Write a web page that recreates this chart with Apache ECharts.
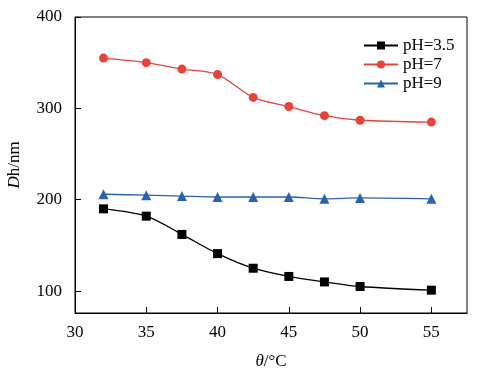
<!DOCTYPE html>
<html>
<head>
<meta charset="utf-8">
<script src="https://cdn.jsdelivr.net/npm/echarts@6/dist/echarts.min.js"></script>
<style>html,body{margin:0;padding:0;background:#fff}#c{width:496px;height:378px}</style>
</head>
<body>
<div id="c"></div>
<script>
const temps = [32, 35, 37.5, 40, 42.5, 45, 47.5, 50, 55];
const ph35 = [190, 182, 162, 141, 125, 116, 110, 105, 101];
const ph7 = [355, 350, 343, 337, 312, 302, 292, 287, 285];
const ph9 = [206, 205, 204, 203, 203, 203, 201, 202, 201];
const xTicks = [30, 35, 40, 45, 50, 55];
const yTicks = [100, 200, 300, 400];
const seriesNames = ['pH=3.5', 'pH=7', 'pH=9'];

const FONT = '"Liberation Serif", "Times New Roman", serif';
const pairs = arr => temps.map((t, i) => [t, arr[i]]);

const chart = echarts.init(document.getElementById('c'), null, {renderer: 'canvas'});
chart.setOption({
  animation: false,
  backgroundColor: '#fff',
  textStyle: {fontFamily: FONT, color: '#000'},
  grid: {left: 75, right: 29, top: 17, bottom: 65, outerBoundsMode: 'none', containLabel: false,
         show: true, borderColor: '#000', borderWidth: 1, backgroundColor: 'transparent'},
  legend: {
    orient: 'vertical', left: 358, top: 32, itemWidth: 34, itemHeight: 10, itemGap: 2, align: 'left',
    textStyle: {fontFamily: FONT, fontSize: 17, color: '#000', lineHeight: 17},
    data: seriesNames
  },
  xAxis: {
    type: 'value', min: 30, max: 57.5,
    name: '{i|θ}/°C', nameLocation: 'middle', nameGap: 40,
    nameTextStyle: {fontFamily: FONT, fontSize: 17, color: '#000', rich: {i: {fontFamily: FONT, fontStyle: 'italic', fontSize: 17, color: '#000'}}},
    axisLine: {show: true, lineStyle: {color: '#000', width: 1}},
    axisTick: {show: true, inside: true, length: 6, customValues: xTicks, lineStyle: {color: '#000'}},
    axisLabel: {customValues: xTicks, margin: 11, fontFamily: FONT, fontSize: 17, color: '#000'},
    splitLine: {show: false}
  },
  yAxis: {
    type: 'value', min: 76, max: 400,
    name: '{i|D}h/nm', nameLocation: 'middle', nameGap: 52,
    nameTextStyle: {fontFamily: FONT, fontSize: 17, color: '#000', rich: {i: {fontFamily: FONT, fontStyle: 'italic', fontSize: 17, color: '#000'}}},
    axisLine: {show: true, lineStyle: {color: '#000', width: 1}},
    axisTick: {show: true, inside: true, length: 6, customValues: yTicks, lineStyle: {color: '#000'}},
    axisLabel: {customValues: yTicks, margin: 13, fontFamily: FONT, fontSize: 17, color: '#000'},
    splitLine: {show: false}
  },
  series: [
    {name: seriesNames[0], type: 'line', smooth: 0.3, data: pairs(ph35), symbol: 'rect', symbolSize: 9,
     itemStyle: {color: '#000'}, lineStyle: {color: '#000', width: 1.3}},
    {name: seriesNames[1], type: 'line', smooth: 0.3, data: pairs(ph7), symbol: 'circle', symbolSize: 9,
     itemStyle: {color: '#e8433a'}, lineStyle: {color: '#e8433a', width: 1.3}},
    {name: seriesNames[2], type: 'line', smooth: 0.3, data: pairs(ph9), symbol: 'triangle', symbolSize: 10,
     itemStyle: {color: '#2c62ad'}, lineStyle: {color: '#2c62ad', width: 1.3}}
  ]
});
</script>
</body>
</html>
